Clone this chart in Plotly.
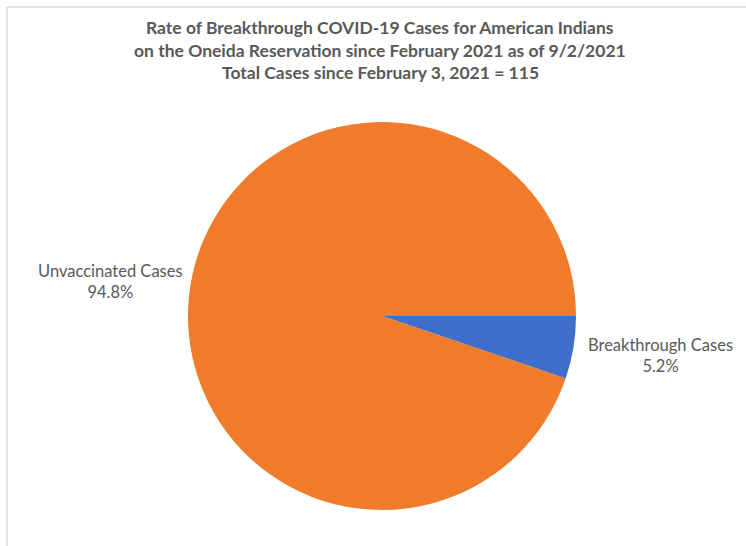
import plotly.graph_objects as go

# Case counts since February 3, 2021
categories = ["Breakthrough Cases", "Unvaccinated Cases"]
case_counts = [6, 109]
slice_colors = ["#3F6FCB", "#F07B2A"]

title_lines = [
    "Rate of Breakthrough COVID-19 Cases for American Indians",
    "on the Oneida Reservation since February 2021 as of 9/2/2021",
    "Total Cases since February 3, 2021 = " + str(sum(case_counts)),
]

W, H = 746, 546
L, R, T, B = 18, 0, 122, 36
pw, ph = W - L - R, H - T - B


def px_x(x):
    return (x - L) / pw


def px_y(y):
    return 1 - (y - T) / ph


total = sum(case_counts)
pct = [f"{v / total * 100:.1f}%" for v in case_counts]

fig = go.Figure(
    go.Pie(
        labels=categories,
        values=case_counts,
        sort=False,
        direction="clockwise",
        rotation=90,
        marker=dict(colors=slice_colors, line=dict(width=0)),
        textinfo="none",
        hoverinfo="label+percent",
        showlegend=False,
    )
)

font_family = "Lato, 'Open Sans', sans-serif"
grey = "#595959"

annotations = []
for i, line in enumerate(title_lines):
    annotations.append(
        dict(
            text=f"<b>{line}</b>",
            x=px_x(380), y=px_y(28 + 22 * i),
            xref="paper", yref="paper",
            xanchor="center", yanchor="middle",
            showarrow=False,
            font=dict(family=font_family, size=17.5, color=grey),
        )
    )

label_pos = {"Unvaccinated Cases": (110, 281), "Breakthrough Cases": (660, 355)}
for name, p in zip(categories, pct):
    cx, cy = label_pos[name]
    annotations.append(
        dict(
            text=f"{name}<br>{p}",
            x=px_x(cx), y=px_y(cy),
            xref="paper", yref="paper",
            xanchor="center", yanchor="middle",
            align="center",
            showarrow=False,
            font=dict(family=font_family, size=16.5, color=grey),
        )
    )

# light frame around the chart area
shapes = [
    dict(type="line", xref="paper", yref="paper",
         x0=px_x(7), y0=px_y(7), x1=px_x(760), y1=px_y(7),
         line=dict(color="#D9D9D9", width=1.5)),
    dict(type="line", xref="paper", yref="paper",
         x0=px_x(7), y0=px_y(7), x1=px_x(7), y1=px_y(560),
         line=dict(color="#D9D9D9", width=1.5)),
]

fig.update_layout(
    width=W, height=H,
    margin=dict(l=L, r=R, t=T, b=B),
    paper_bgcolor="white",
    plot_bgcolor="white",
    annotations=annotations,
    shapes=shapes,
)

fig.write_html("out.html")
